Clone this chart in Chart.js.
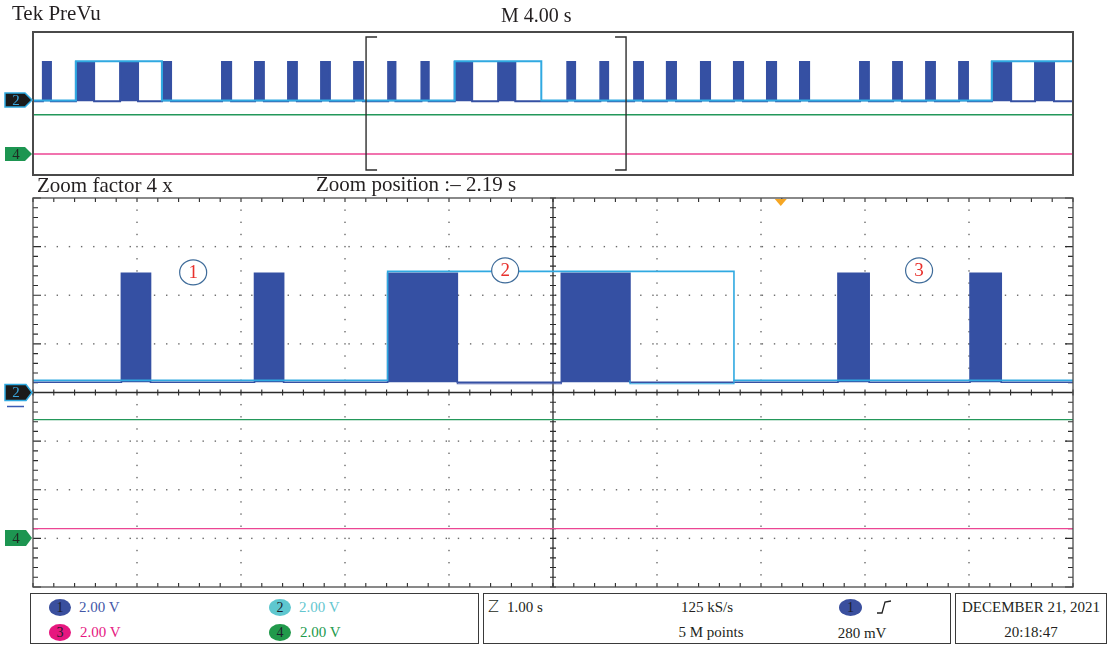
<!DOCTYPE html>
<html>
<head>
<meta charset="utf-8">
<script src="https://cdn.jsdelivr.net/npm/chart.js@4.4.1/dist/chart.umd.min.js"></script>
<style>
  html, body { margin: 0; padding: 0; background: #fff; }
  #scope { position: relative; width: 1110px; height: 645px; overflow: hidden;
           font-family: "Liberation Serif", "DejaVu Serif", serif; color: #231f20; }
  #scope canvas { position: absolute; left: 0; }
  .t { position: absolute; white-space: nowrap; line-height: 1; }
  .box { position: absolute; border: 1.5px solid #3a3a3a; box-sizing: border-box; }
  .chip { position: absolute; width: 22px; height: 17px; border-radius: 50%;
          font-size: 14px; line-height: 17px; text-align: center; color: #1d1d2b; }
  .c { transform: translateX(-50%); }
</style>
</head>
<body>
<div id="scope">
  <canvas id="overview" width="1110" height="185" style="top:0"></canvas>
  <canvas id="zoomed" width="1110" height="404" style="top:186px"></canvas>

  <div class="t" style="left:12px; top:3px; font-size:21px;">Tek PreVu</div>
  <div class="t" style="left:501px; top:5px; font-size:20px;">M 4.00 s</div>
  <div class="t" style="left:37px; top:175px; font-size:21px;">Zoom factor 4 x</div>
  <div class="t" style="left:316px; top:174px; font-size:21px;">Zoom position :– 2.19 s</div>

  <!-- channel scale box -->
  <div class="box" style="left:30px; top:593px; width:449px; height:51px;"></div>
  <div class="chip" style="left:49px; top:599px; background:#3a4f9e;">1</div>
  <div class="t" style="left:79px; top:600px; font-size:15px; color:#4357a7;">2.00 V</div>
  <div class="chip" style="left:49px; top:624px; background:#e6177f;">3</div>
  <div class="t" style="left:80px; top:625px; font-size:15px; color:#e6177f;">2.00 V</div>
  <div class="chip" style="left:269px; top:599px; background:#5ec7cf;">2</div>
  <div class="t" style="left:299px; top:600px; font-size:15px; color:#64c6cf;">2.00 V</div>
  <div class="chip" style="left:269px; top:624px; background:#21994b;">4</div>
  <div class="t" style="left:300px; top:625px; font-size:15px; color:#21994b;">2.00 V</div>

  <!-- timebase / trigger box -->
  <div class="box" style="left:483px; top:593px; width:468px; height:51px;"></div>
  <div class="t" style="left:488px; top:599px; font-size:16px; font-family:'DejaVu Sans',sans-serif; font-weight:300;">Z</div>
  <div class="t" style="left:507px; top:600px; font-size:15px;">1.00 s</div>
  <div class="t c" style="left:707px; top:600px; font-size:15px;">125 kS/s</div>
  <div class="t c" style="left:711px; top:625px; font-size:15px;">5 M points</div>
  <div class="chip" style="left:839px; top:599px; width:23px; background:#3a4f9e;">1</div>
  <svg style="position:absolute; left:876px; top:599px;" width="20" height="16">
    <polyline points="1,14 6,14 9,3 15,2" fill="none" stroke="#222" stroke-width="1.3"/>
  </svg>
  <div class="t c" style="left:862px; top:626px; font-size:15px;">280 mV</div>

  <!-- date box -->
  <div class="box" style="left:955px; top:593px; width:152px; height:51px;"></div>
  <div class="t c" style="left:1031px; top:600px; font-size:15px;">DECEMBER 21, 2021</div>
  <div class="t c" style="left:1031px; top:625px; font-size:15px;">20:18:47</div>
</div>

<script>
// ---- acquisition settings ----
const recordStart = -20;          // s (4.00 s/div, 10 divisions, trigger at 0 s)
const recordEnd = 20;
const zoomPosition = -2.19;       // s
const zoomFactor = 4;
const zoomWindow = (recordEnd - recordStart) / zoomFactor;   // 10 s -> 1.00 s/div
const triggerTime = 0;
const voltRange = [-8, 8];        // 2.00 V/div, 8 divisions

// ---- channel 1: pulse edges (s) ----
const ch1Rise = [-19.62, -18.35, -16.65, -15.04, -12.73, -11.46, -10.19, -8.92, -7.65,
                 -6.34, -5.06, -3.78, -2.11, 0.55, 1.82,
                 3.12, 4.38, 5.69, 6.96, 8.23, 9.50, 11.81, 13.08, 14.35, 15.62, 16.88, 18.54];
const ch1Fall = [-19.31, -17.65, -15.96, -14.69, -12.38, -11.12, -9.85, -8.58, -7.31,
                 -6.06, -4.78, -3.11, -1.45, 0.85, 2.12,
                 3.46, 4.73, 6.04, 7.31, 8.58, 9.85, 12.15, 13.42, 14.69, 15.96, 17.62, 19.27];
const ch1High = 4.90;   // V
const ch1Low = 0.42;    // V
const ch1DipStart = [-3.11];
const ch1DipEnd = [-2.11];
const ch1DipLevel = 0.36;

// ---- channel 2: enable edges (s) ----
const ch2Rise = [-18.35, -3.78, 16.88];
const ch2Fall = [-15.04, -0.45];
const ch2High = 4.98;
const ch2Low = 0.50;
const ch2DipStart = [-1.45];
const ch2DipEnd = [-0.45];
const ch2DipLevel = 0.36;

// ---- channels 3 and 4: flat levels (V) ----
const ch3Level = -5.60;
const ch4Level = -1.12;

// ---- ground markers ----
const overviewMarkers = [{ label: '2', volts: 0.55 }, { label: '4', volts: -5.60 }];
const zoomMarkers = [{ label: '2', volts: 0 }, { label: '4', volts: -5.98 }];

// ---- circled region labels on the zoomed view ----
const regionLabels = ['1', '2', '3'];
const regionTimes = [-5.65, -2.65, 1.33];
const regionVolts = [4.94, 5.02, 5.02];

const colors = {
  ch1: '#3550a3', ch2: '#30a9e1', ch3: '#ec4593', ch4: '#23985a',
  frame: '#4a4a4a', tick: '#2b2b2b', dot: '#6a6a6a'
};

function pulseTrace(rises, falls, lo, hi) {
  const pts = [{ x: recordStart, y: lo }];
  rises.forEach((r, i) => {
    pts.push({ x: r, y: lo }, { x: r, y: hi });
    if (falls[i] !== undefined) pts.push({ x: falls[i], y: hi }, { x: falls[i], y: lo });
  });
  pts.push({ x: recordEnd, y: pts[pts.length - 1].y });
  return pts;
}

function dipTrace(starts, ends, base, level) {
  const pts = [];
  starts.forEach((s, i) => {
    pts.push({ x: s, y: base }, { x: s, y: level }, { x: ends[i], y: level }, { x: ends[i], y: base }, { x: null, y: null });
  });
  return pts;
}

function flat(level) {
  return [{ x: recordStart, y: level }, { x: recordEnd, y: level }];
}

function traces(w, withDips) {
  const sets = [
    { data: pulseTrace(ch1Rise, ch1Fall, ch1Low, ch1High), borderColor: colors.ch1,
      backgroundColor: colors.ch1, fill: { value: ch1Low }, borderWidth: w, order: 2 },
    { data: pulseTrace(ch2Rise, ch2Fall, ch2Low, ch2High), borderColor: colors.ch2,
      fill: false, borderWidth: w, order: 0 },
    { data: flat(ch4Level), borderColor: colors.ch4, fill: false, borderWidth: w * 0.8, order: 3 },
    { data: flat(ch3Level), borderColor: colors.ch3, fill: false, borderWidth: w * 0.8, order: 3 }
  ];
  if (withDips) {
    sets.push({ data: dipTrace(ch1DipStart, ch1DipEnd, ch1Low, ch1DipLevel), borderColor: '#4b5fae',
      fill: false, borderWidth: 1.2, order: 1, spanGaps: false });
    sets.push({ data: dipTrace(ch2DipStart, ch2DipEnd, ch2Low, ch2DipLevel), borderColor: colors.ch2,
      fill: false, borderWidth: 1.2, order: 1, spanGaps: false });
  }
  sets.forEach(s => { s.pointRadius = 0; s.tension = 0; });
  return sets;
}

function drawMarker(ctx, py, label, big) {
  const x0 = 5, x1 = big ? 26 : 25, tip = 32, h = big ? 16 : 14;
  ctx.save();
  ctx.beginPath();
  ctx.moveTo(x0, py - h / 2); ctx.lineTo(x1, py - h / 2); ctx.lineTo(tip, py);
  ctx.lineTo(x1, py + h / 2); ctx.lineTo(x0, py + h / 2); ctx.closePath();
  if (label === '2') {
    ctx.fillStyle = '#1b1b1b'; ctx.fill();
    ctx.strokeStyle = '#2fa9e0'; ctx.lineWidth = 1.5; ctx.stroke();
    ctx.fillStyle = '#3aa6dd';
  } else {
    ctx.fillStyle = '#1d9551'; ctx.fill();
    ctx.fillStyle = '#1f2a22';
  }
  ctx.font = '15px "Liberation Serif", serif';
  ctx.textAlign = 'center'; ctx.textBaseline = 'middle';
  ctx.fillText(label, 16, py + 1);
  ctx.restore();
}

// graticule, frame and annotations for the scope views
const scopeDecor = {
  id: 'scopeDecor',
  beforeDatasetsDraw(chart, _args, o) {
    if (!o.graticule) return;
    const { ctx, chartArea: a, scales: { x, y } } = chart;
    const dx = (x.max - x.min) / o.xDivs, dy = (y.max - y.min) / o.yDivs;
    const divH = Math.abs(y.getPixelForValue(y.min + dy) - y.getPixelForValue(y.min));
    const divW = x.getPixelForValue(x.min + dx) - x.getPixelForValue(x.min);
    const dot = divH / 4;
    ctx.save();
    ctx.fillStyle = colors.dot;
    for (let k = 1; k < o.xDivs; k++) {
      if (k === o.xDivs / 2) continue;
      const px = x.getPixelForValue(x.min + k * dx);
      for (let py = a.top + dot; py < a.bottom - 2; py += dot) ctx.fillRect(px - 0.7, py - 0.7, 1.4, 1.4);
    }
    for (let k = 1; k < o.yDivs; k++) {
      if (k === o.yDivs / 2) continue;
      const py = y.getPixelForValue(y.min + k * dy);
      for (let px = a.left + dot; px < a.right - 2; px += dot) ctx.fillRect(px - 0.7, py - 0.7, 1.4, 1.4);
    }
    // centre axes
    const cx = x.getPixelForValue(x.min + (o.xDivs / 2) * dx);
    const cy = y.getPixelForValue(y.min + (o.yDivs / 2) * dy);
    ctx.strokeStyle = colors.tick; ctx.lineWidth = 1.3;
    ctx.beginPath();
    ctx.moveTo(a.left, cy); ctx.lineTo(a.right, cy);
    ctx.moveTo(cx, a.top); ctx.lineTo(cx, a.bottom);
    ctx.stroke();
    ctx.lineWidth = 1.1;
    ctx.beginPath();
    const mx = divW / 5, my = divH / 5;
    for (let k = 0; k <= o.xDivs * 5; k++) {
      const px = a.left + k * mx;
      ctx.moveTo(px, cy - 3); ctx.lineTo(px, cy + 3);
      ctx.moveTo(px, a.top); ctx.lineTo(px, a.top + 4);
      ctx.moveTo(px, a.bottom); ctx.lineTo(px, a.bottom - 4);
    }
    for (let k = 0; k <= o.yDivs * 5; k++) {
      const py = a.top + k * my;
      const len = k % 5 === 0 ? 8 : 5;
      ctx.moveTo(cx - 3, py); ctx.lineTo(cx + 3, py);
      ctx.moveTo(a.left, py); ctx.lineTo(a.left + len, py);
      ctx.moveTo(a.right, py); ctx.lineTo(a.right - len, py);
    }
    ctx.stroke();
    ctx.restore();
  },
  afterDatasetsDraw(chart, _args, o) {
    const { ctx, chartArea: a, scales: { x, y } } = chart;
    ctx.save();
    if (o.labels) {
      regionLabels.forEach((lab, i) => {
        const px = x.getPixelForValue(regionTimes[i]);
        const py = y.getPixelForValue(regionVolts[i]);
        ctx.beginPath();
        ctx.ellipse(px, py, 13.5, 12.5, 0, 0, Math.PI * 2);
        ctx.fillStyle = '#fff'; ctx.fill();
        ctx.strokeStyle = '#3f6c9a'; ctx.lineWidth = 1.2; ctx.stroke();
        ctx.fillStyle = '#e8302c';
        ctx.font = '19px "Liberation Serif", serif';
        ctx.textAlign = 'center'; ctx.textBaseline = 'middle';
        ctx.fillText(lab, px, py + 1);
      });
    }
    if (o.bracket) {
      const l = x.getPixelForValue(zoomPosition - zoomWindow / 2);
      const r = x.getPixelForValue(zoomPosition + zoomWindow / 2);
      const t = a.top + 5, b = a.bottom - 5, s = 11;
      ctx.strokeStyle = '#2e2e2e'; ctx.lineWidth = 1.4;
      ctx.beginPath();
      ctx.moveTo(l + s, t); ctx.lineTo(l, t); ctx.lineTo(l, b); ctx.lineTo(l + s, b);
      ctx.moveTo(r - s, t); ctx.lineTo(r, t); ctx.lineTo(r, b); ctx.lineTo(r - s, b);
      ctx.stroke();
    }
    ctx.strokeStyle = colors.frame; ctx.lineWidth = o.frameWidth;
    ctx.strokeRect(a.left, a.top, a.right - a.left, a.bottom - a.top);
    if (o.trigger) {
      const px = x.getPixelForValue(triggerTime);
      ctx.fillStyle = '#f6a623';
      ctx.beginPath();
      ctx.moveTo(px - 6, a.top + 1); ctx.lineTo(px + 6, a.top + 1); ctx.lineTo(px, a.top + 8);
      ctx.closePath(); ctx.fill();
    }
    o.markers.forEach(m => drawMarker(ctx, y.getPixelForValue(m.volts), m.label, o.graticule));
    if (o.graticule) {
      const py = y.getPixelForValue(0) + 14;
      ctx.strokeStyle = '#3b5bb5'; ctx.lineWidth = 1.5;
      ctx.beginPath(); ctx.moveTo(7, py); ctx.lineTo(24, py); ctx.stroke();
    }
    ctx.restore();
  }
};

function scopeChart(id, xmin, xmax, ymin, ymax, padding, lineW, decor, withDips) {
  return new Chart(document.getElementById(id), {
    type: 'line',
    data: { datasets: traces(lineW, withDips) },
    options: {
      responsive: false, animation: false, devicePixelRatio: 1, events: [],
      layout: { padding },
      scales: {
        x: { type: 'linear', min: xmin, max: xmax, display: false },
        y: { type: 'linear', min: ymin, max: ymax, display: false }
      },
      plugins: { legend: { display: false }, tooltip: { enabled: false }, scopeDecor: decor }
    },
    plugins: [scopeDecor]
  });
}

// PreVu record overview, 4.00 s/div
scopeChart('overview', recordStart, recordEnd, -8.0, 8.32,
  { left: 33, right: 37, top: 32, bottom: 10 }, 2,
  { graticule: false, labels: false, bracket: true, trigger: false, frameWidth: 2,
    markers: overviewMarkers, xDivs: 10, yDivs: 8 }, false);

// zoomed window, 1.00 s/div, 2.00 V/div
scopeChart('zoomed', zoomPosition - zoomWindow / 2, zoomPosition + zoomWindow / 2, voltRange[0], voltRange[1],
  { left: 33, right: 37, top: 12, bottom: 3 }, 1.6,
  { graticule: true, labels: true, bracket: false, trigger: true, frameWidth: 1.3,
    markers: zoomMarkers, xDivs: 10, yDivs: 8 }, true);
</script>
</body>
</html>
